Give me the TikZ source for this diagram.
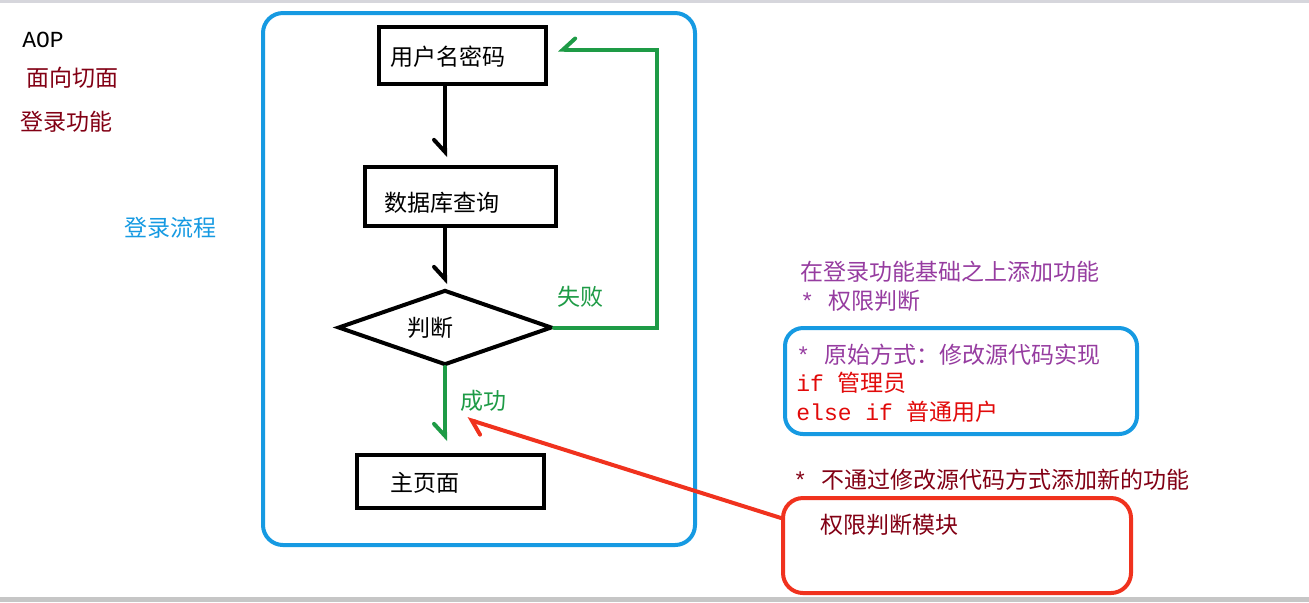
\documentclass[tikz,border=0pt]{standalone}
\usepackage{fontspec}
\setmainfont{Noto Sans CJK SC}
\setmonofont{Liberation Mono}
\usetikzlibrary{shapes.geometric,arrows.meta,positioning,calc}
\definecolor{frameblue}{RGB}{22,154,226}
\definecolor{okgreen}{RGB}{30,155,70}
\definecolor{darkred}{RGB}{130,0,20}
\definecolor{notepurple}{RGB}{150,60,160}
\definecolor{coderred}{RGB}{225,10,10}
\definecolor{modred}{RGB}{240,50,30}

\begin{document}
\begin{tikzpicture}[
    x=0.5pt, y=-0.5pt,
    box/.style={draw=black, line width=2pt, inner sep=0pt},
    txt/.style={font=\fontsize{11.5}{13}\selectfont, inner sep=0pt, anchor=west},
    flowarrow/.style={line width=2pt, line cap=round, -{Straight Barb[right, length=6pt, width=11pt, line cap=round]}},
    frame/.style={line width=2pt, rounded corners=10pt, inner sep=0pt}
]
    \useasboundingbox (0,0) rectangle (1309,602);
    % screen edges
    \fill[blue!8!gray!30] (0,0) rectangle (1309,3);
    \fill[gray!45] (0,597) rectangle (1309,602);

    % Left notes
    \node[txt, font=\fontsize{11.5}{13}\ttfamily] (aop) at (22, 40) {AOP};
    \node[txt, text=darkred] (facet) at (26, 78) {面向切面};
    \node[txt, text=darkred] (login) at (20, 122) {登录功能};
    \node[txt, text=frameblue] (flowname) at (124, 228) {登录流程};

    % Login flow
    \node[frame, draw=frameblue, minimum width=216pt, minimum height=266pt] (flow) at (479, 279) {};

    \node[box, minimum width=83.5pt, minimum height=28.5pt] (user) at (462.5, 55.5) {};
    \node[txt] (usertxt) at (390, 57) {用户名密码};
    \node[box, minimum width=95.5pt, minimum height=29.5pt] (db) at (460.5, 196.5) {};
    \node[txt] (dbtxt) at (384, 203) {数据库查询};
    \node[box, diamond, minimum width=107pt, minimum height=37.5pt] (judge) at (445, 327.5) {};
    \node[txt] (judgetxt) at (407, 328) {判断};
    \node[box, minimum width=93.5pt, minimum height=26.5pt] (home) at (450.5, 481.5) {};
    \node[txt] (hometxt) at (390, 483) {主页面};

    \draw[flowarrow] (user.south -| judge.north) -- ([yshift=4pt]db.north -| judge.north);
    \draw[flowarrow] (db.south -| judge.north) -- ([yshift=2pt]judge.north);
    \draw[flowarrow, okgreen] (judge.south) -- ([yshift=6pt]home.north -| judge.south);
    \draw[flowarrow, okgreen] (judge.east) -- ++(103,0) |- ([xshift=5pt, yshift=3pt]user.east);

    \node[txt, text=okgreen] (fail) at (557, 297) {失败};
    \node[txt, text=okgreen] (succ) at (460, 401) {成功};

    % Permission notes
    \node[txt, text=notepurple] (addfunc) at (800, 272) {在登录功能基础之上添加功能};
    \node[txt, text=notepurple] (perm) at (800, 301) {{\ttfamily* }权限判断};

    \node[frame, draw=frameblue, rounded corners=9pt, minimum width=176pt, minimum height=53pt] (orig) at (961, 381) {};
    \node[txt, text=notepurple] (origtxt) at (796, 355) {{\ttfamily* }原始方式：修改源代码实现};
    \node[txt, text=coderred] (ifadmin) at (796, 383) {{\ttfamily if }管理员};
    \node[txt, text=coderred] (ifuser) at (796, 412) {{\ttfamily else if }普通用户};

    \node[txt, text=darkred] (nomod) at (793, 480) {{\ttfamily* }不通过修改源代码方式添加新的功能};
    \node[frame, draw=modred, minimum width=174pt, minimum height=47.5pt] (module) at (957, 545.5) {};
    \node[txt, text=darkred] (modtxt) at (820, 525) {权限判断模块};

    \coordinate (redstart) at (781, 518);
    \coordinate (redtip) at (467, 419);
    \draw[line width=2pt, line cap=round, modred, -{Straight Barb[left, length=6pt, width=11pt, line cap=round]}] (redstart) -- (redtip);
\end{tikzpicture}
\end{document}
